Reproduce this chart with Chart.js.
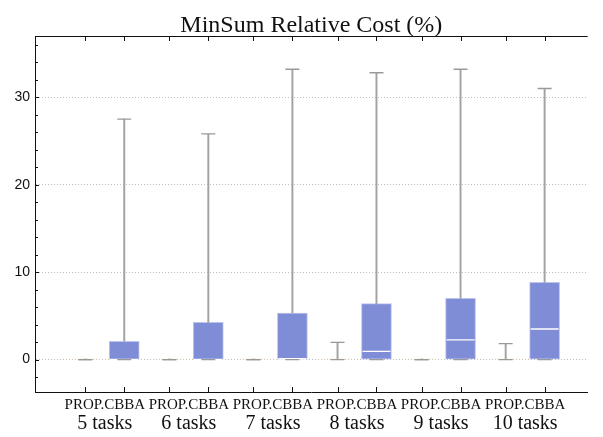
<!DOCTYPE html>
<html lang="en">
<head>
  <meta charset="UTF-8">
  <title>MinSum Relative Cost</title>
  <script src="https://cdn.jsdelivr.net/npm/chart.js"></script>
  <style>
    html, body { margin: 0; padding: 0; background: #fff; }
    #wrap { width: 603px; height: 437px; }
  </style>
</head>
<body>
  <div id="wrap"><canvas id="chart"></canvas></div>

  <script>
    // values
    const groups = ['5 tasks', '6 tasks', '7 tasks', '8 tasks', '9 tasks', '10 tasks'];
    const methods = ['PROP.', 'CBBA'];

    const propMin = [0, 0, 0, 0, 0, 0];
    const propQ1 = [0, 0, 0, 0, 0, 0];
    const propMedian = [0, 0, 0, 0, 0, 0];
    const propQ3 = [0.08, 0.08, 0.08, 0.08, 0.08, 0.08];
    const propMax = [0, 0, 0, 1.97, 0, 1.83];

    const cbbaMin = [0, 0, 0, 0, 0, 0];
    const cbbaQ1 = [0, 0, 0, 0, 0, 0];
    const cbbaMedian = [0, 0, 0.1, 0.95, 2.25, 3.5];
    const cbbaQ3 = [2.1, 4.26, 5.33, 6.4, 7.0, 8.83];
    const cbbaMax = [27.5, 25.8, 33.2, 32.8, 33.2, 31.0];

    const yTicks = [0, 10, 20, 30];

    const shift = 0.2315; // half distance between the two boxes of a group
    const xProp = groups.map((g, i) => i + 1 - shift);
    const xCbba = groups.map((g, i) => i + 1 + shift);

    const boxes = (xs, lo, hi) => xs.map((x, i) => ({ x: x, y: [lo[i], hi[i]] }));
    const pts = (xs, ys) => xs.map((x, i) => ({ x: x, y: ys[i] }));

    // tick marks inside the frame, top border, title and two-line x labels
    const framePlugin = {
      id: 'frame',
      afterDraw(chart) {
        const ctx = chart.ctx;
        const area = chart.chartArea;
        const xs = chart.scales.x;
        const ys = chart.scales.y;
        ctx.save();
        ctx.strokeStyle = '#111';
        ctx.lineWidth = 1;
        ctx.beginPath();
        ctx.moveTo(area.left, area.top + 0.5);
        ctx.lineTo(area.right, area.top + 0.5);
        [...xProp, ...xCbba].forEach(v => {
          const px = Math.round(xs.getPixelForValue(v)) + 0.5;
          ctx.moveTo(px, area.bottom);
          ctx.lineTo(px, area.bottom - 5);
          ctx.moveTo(px, area.top);
          ctx.lineTo(px, area.top + 5);
        });
        for (let v = -2; v <= 36; v += 2) {
          const py = Math.round(ys.getPixelForValue(v)) + 0.5;
          const len = v % 10 === 0 ? 4 : 3;
          ctx.moveTo(area.left, py);
          ctx.lineTo(area.left + len, py);
        }
        ctx.stroke();

        ctx.fillStyle = '#111';
        ctx.textAlign = 'center';
        ctx.textBaseline = 'alphabetic';
        ctx.font = '24px "Liberation Serif", serif';
        ctx.fillText('MinSum Relative Cost (%)', (area.left + area.right) / 2, 32);

        groups.forEach((g, i) => {
          const cx = xs.getPixelForValue(i + 1);
          ctx.font = '15px "Liberation Serif", serif';
          ctx.fillText(methods.join(''), cx, 409);
          ctx.font = '20px "Liberation Serif", serif';
          ctx.fillText(g, cx, 429);
        });
        ctx.restore();
      }
    };

    const boxFill = '#7f8dd6';
    const boxEdge = '#bcc3ef';
    const propFill = '#fde6c4';
    const whisker = '#a3a3a3';

    new Chart(document.getElementById('chart'), {
      type: 'bar',
      data: {
        datasets: [
          {
            label: 'PROP. box',
            data: boxes(xProp, propQ1, propQ3),
            backgroundColor: propFill,
            borderColor: '#fbe9cf',
            borderWidth: 1,
            borderSkipped: false,
            barThickness: 30,
            grouped: false,
            order: 4
          },
          {
            label: 'CBBA box',
            data: boxes(xCbba, cbbaQ1, cbbaQ3),
            backgroundColor: boxFill,
            borderColor: boxEdge,
            borderWidth: 1,
            borderSkipped: false,
            barThickness: 30,
            grouped: false,
            order: 4
          },
          {
            label: 'PROP. whisker',
            data: boxes(xProp, propQ3, propMax),
            backgroundColor: whisker,
            borderWidth: 0,
            barThickness: 1.3,
            grouped: false,
            order: 3
          },
          {
            label: 'CBBA whisker',
            data: boxes(xCbba, cbbaQ3, cbbaMax),
            backgroundColor: whisker,
            borderWidth: 0,
            barThickness: 1.3,
            grouped: false,
            order: 3
          },
          {
            type: 'line',
            label: 'CBBA median',
            data: pts(xCbba, cbbaMedian),
            showLine: false,
            pointStyle: 'line',
            pointRadius: 14,
            pointBorderWidth: 1.3,
            pointBorderColor: '#ffffff',
            order: 2
          },
          {
            type: 'line',
            label: 'caps',
            data: [...pts(xProp, propMax), ...pts(xProp, propMin),
                   ...pts(xCbba, cbbaMax), ...pts(xCbba, cbbaMin)],
            showLine: false,
            pointStyle: 'line',
            pointRadius: 7,
            pointBorderWidth: 1.3,
            pointBorderColor: '#999999',
            order: 1
          }
        ]
      },
      options: {
        responsive: true,
        maintainAspectRatio: false,
        animation: false,
        layout: { padding: { top: 36, left: 0, right: 0, bottom: 0 } },
        plugins: {
          legend: { display: false },
          tooltip: { enabled: false },
          title: { display: false }
        },
        scales: {
          x: {
            type: 'linear',
            min: 0.17,
            max: 6.744,
            offset: false,
            grid: { display: false, drawTicks: false },
            border: { display: true, color: '#111', width: 1 },
            ticks: { display: false },
            afterFit(scale) { scale.height = 45; }
          },
          y: {
            min: -3.7,
            max: 37,
            afterBuildTicks(scale) { scale.ticks = yTicks.map(v => ({ value: v })); },
            grid: {
              color: '#bdbdbd',
              lineWidth: 1,
              drawTicks: false
            },
            border: { display: true, color: '#111', width: 1, dash: [1, 2] },
            ticks: {
              padding: 5,
              color: '#111',
              font: { family: '"Liberation Sans", Arial, sans-serif', size: 14 }
            },
            afterFit(scale) { scale.width = 35; }
          }
        }
      },
      plugins: [framePlugin]
    });
  </script>
</body>
</html>
